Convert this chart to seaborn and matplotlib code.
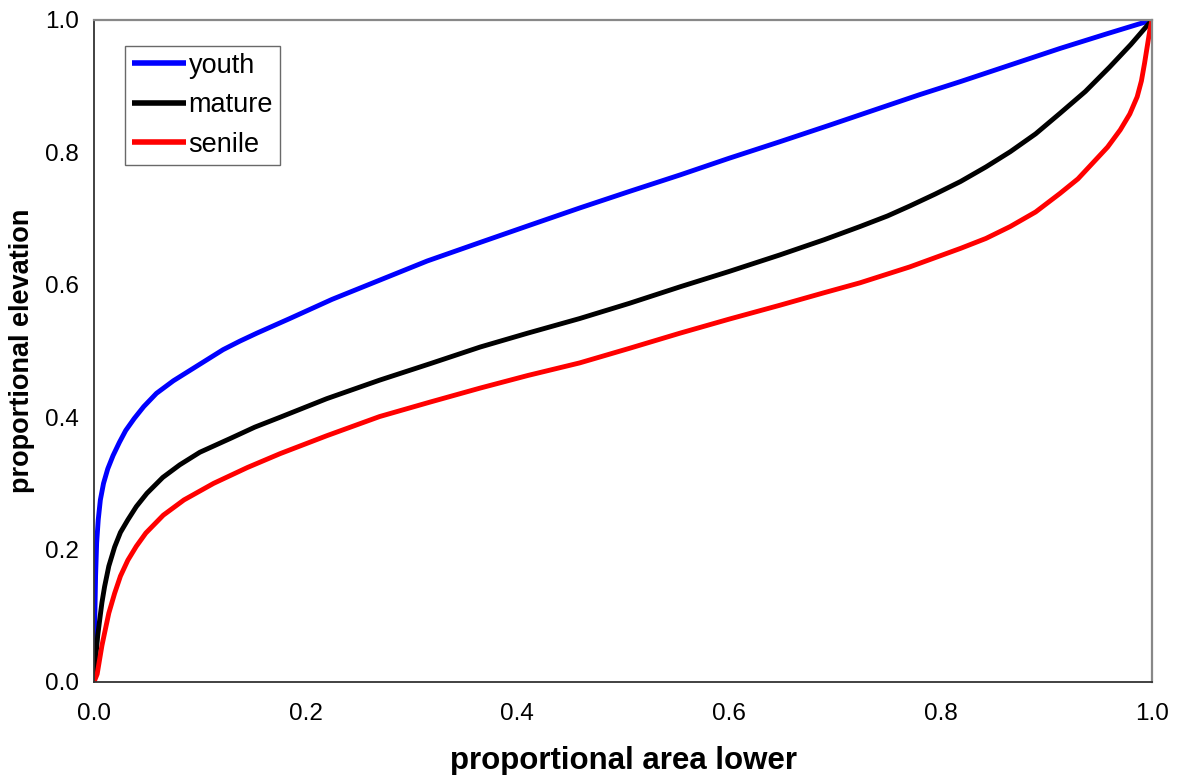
import matplotlib
matplotlib.use("Agg")
import matplotlib.pyplot as plt
import seaborn as sns
import pandas as pd

youth_x = [0, 0.0008, 0.0015, 0.0025, 0.004, 0.006, 0.009, 0.013, 0.018, 0.024, 0.030, 0.038,
           0.047, 0.059, 0.075, 0.091, 0.107, 0.122, 0.138, 0.154, 0.185, 0.225, 0.270, 0.315,
           0.365, 0.41, 0.459, 0.506, 0.554, 0.60, 0.648, 0.695, 0.743, 0.78, 0.819, 0.866,
           0.913, 0.957, 1.0]
youth_y = [0, 0.10, 0.16, 0.21, 0.245, 0.275, 0.30, 0.322, 0.342, 0.362, 0.380, 0.398,
           0.416, 0.436, 0.455, 0.471, 0.487, 0.502, 0.515, 0.527, 0.549, 0.578, 0.607, 0.636,
           0.664, 0.689, 0.716, 0.741, 0.766, 0.791, 0.816, 0.841, 0.867, 0.887, 0.907, 0.932,
           0.957, 0.979, 1.0]

mature_x = [0, 0.001, 0.002, 0.0035, 0.0054, 0.0075, 0.010, 0.014, 0.0195, 0.025, 0.032, 0.040,
            0.050, 0.065, 0.081, 0.100, 0.129, 0.152, 0.176, 0.22, 0.270, 0.318, 0.365, 0.41,
            0.459, 0.506, 0.554, 0.60, 0.648, 0.69, 0.724, 0.75, 0.771, 0.795, 0.819, 0.843,
            0.866, 0.89, 0.913, 0.937, 0.960, 0.98, 1.0]
mature_y = [0, 0.025, 0.043, 0.07, 0.094, 0.12, 0.144, 0.175, 0.204, 0.226, 0.245, 0.265,
            0.285, 0.309, 0.328, 0.347, 0.368, 0.385, 0.400, 0.428, 0.456, 0.481, 0.506, 0.527,
            0.549, 0.572, 0.597, 0.620, 0.645, 0.668, 0.688, 0.704, 0.719, 0.737, 0.756, 0.778,
            0.801, 0.828, 0.859, 0.892, 0.929, 0.963, 1.0]

senile_x = [0, 0.003, 0.0054, 0.0075, 0.010, 0.014, 0.0195, 0.025, 0.032, 0.040, 0.049, 0.0655,
            0.085, 0.113, 0.145, 0.176, 0.22, 0.270, 0.318, 0.365, 0.41, 0.459, 0.506, 0.554,
            0.60, 0.648, 0.69, 0.724, 0.771, 0.819, 0.843, 0.866, 0.89, 0.913, 0.93, 0.944,
            0.958, 0.970, 0.979, 0.986, 0.990, 0.993, 0.996, 0.998, 1.0]
senile_y = [0, 0.012, 0.035, 0.055, 0.074, 0.104, 0.134, 0.160, 0.184, 0.205, 0.225, 0.252,
            0.275, 0.300, 0.324, 0.345, 0.372, 0.401, 0.423, 0.444, 0.463, 0.482, 0.504, 0.527,
            0.548, 0.569, 0.588, 0.603, 0.627, 0.655, 0.670, 0.688, 0.710, 0.738, 0.760, 0.784,
            0.808, 0.834, 0.858, 0.884, 0.908, 0.935, 0.965, 0.985, 1.0]

series_names = ["youth", "mature", "senile"]
series_colors = ["#0000FF", "#000000", "#FF0000"]
tick_values = [0.0, 0.2, 0.4, 0.6, 0.8, 1.0]

sns.set_theme(style="white")
plt.rcParams["font.family"] = ["Liberation Sans", "DejaVu Sans"]
plt.rcParams["text.color"] = "black"
plt.rcParams["axes.labelcolor"] = "black"

fig = plt.figure(figsize=(11.77, 7.75), dpi=100)
ax = fig.add_axes([94 / 1177, 93 / 775, 1058 / 1177, 662 / 775])

data = {
    "youth": (youth_x, youth_y),
    "mature": (mature_x, mature_y),
    "senile": (senile_x, senile_y),
}
for name, color in zip(series_names, series_colors):
    xs, ys = data[name]
    df = pd.DataFrame({"x": xs, "y": ys})
    sns.lineplot(data=df, x="x", y="y", ax=ax, color=color, linewidth=3.5,
                 sort=False, estimator=None, label=name,
                 solid_joinstyle="round", solid_capstyle="butt")

ax.set_xlim(0, 1)
ax.set_ylim(0, 1)
ax.set_xticks(tick_values)
ax.set_yticks(tick_values)
ax.set_xticklabels([f"{v:.1f}" for v in tick_values])
ax.set_yticklabels([f"{v:.1f}" for v in tick_values])
ax.tick_params(axis="both", direction="in", length=5, width=1, colors="#000000",
               labelcolor="#000000", labelsize=17.5)
ax.tick_params(axis="y", pad=11)
ax.tick_params(axis="x", pad=15)

for side in ["left", "bottom"]:
    ax.spines[side].set_color("#333333")
    ax.spines[side].set_linewidth(1.3)
for side in ["top", "right"]:
    ax.spines[side].set_color("#888888")
    ax.spines[side].set_linewidth(1.6)

ax.set_xlabel("proportional area lower", fontsize=22.5, fontweight="bold", labelpad=15,
              color="black")
ax.set_ylabel("proportional elevation", fontsize=19.5, fontweight="bold", labelpad=7,
              color="black")

leg = ax.legend(loc="upper left", bbox_to_anchor=(0.0293, 0.9607), fontsize=19.5,
                frameon=True, fancybox=False, handlelength=2.0, handletextpad=0.1,
                borderpad=0.25, labelspacing=0.5, borderaxespad=0)
leg.get_frame().set_edgecolor("#444444")
leg.get_frame().set_linewidth(1.0)
for line in leg.get_lines():
    line.set_linewidth(4)
for t in leg.get_texts():
    t.set_color("black")

fig.savefig("out.png", dpi=100, facecolor="white")
